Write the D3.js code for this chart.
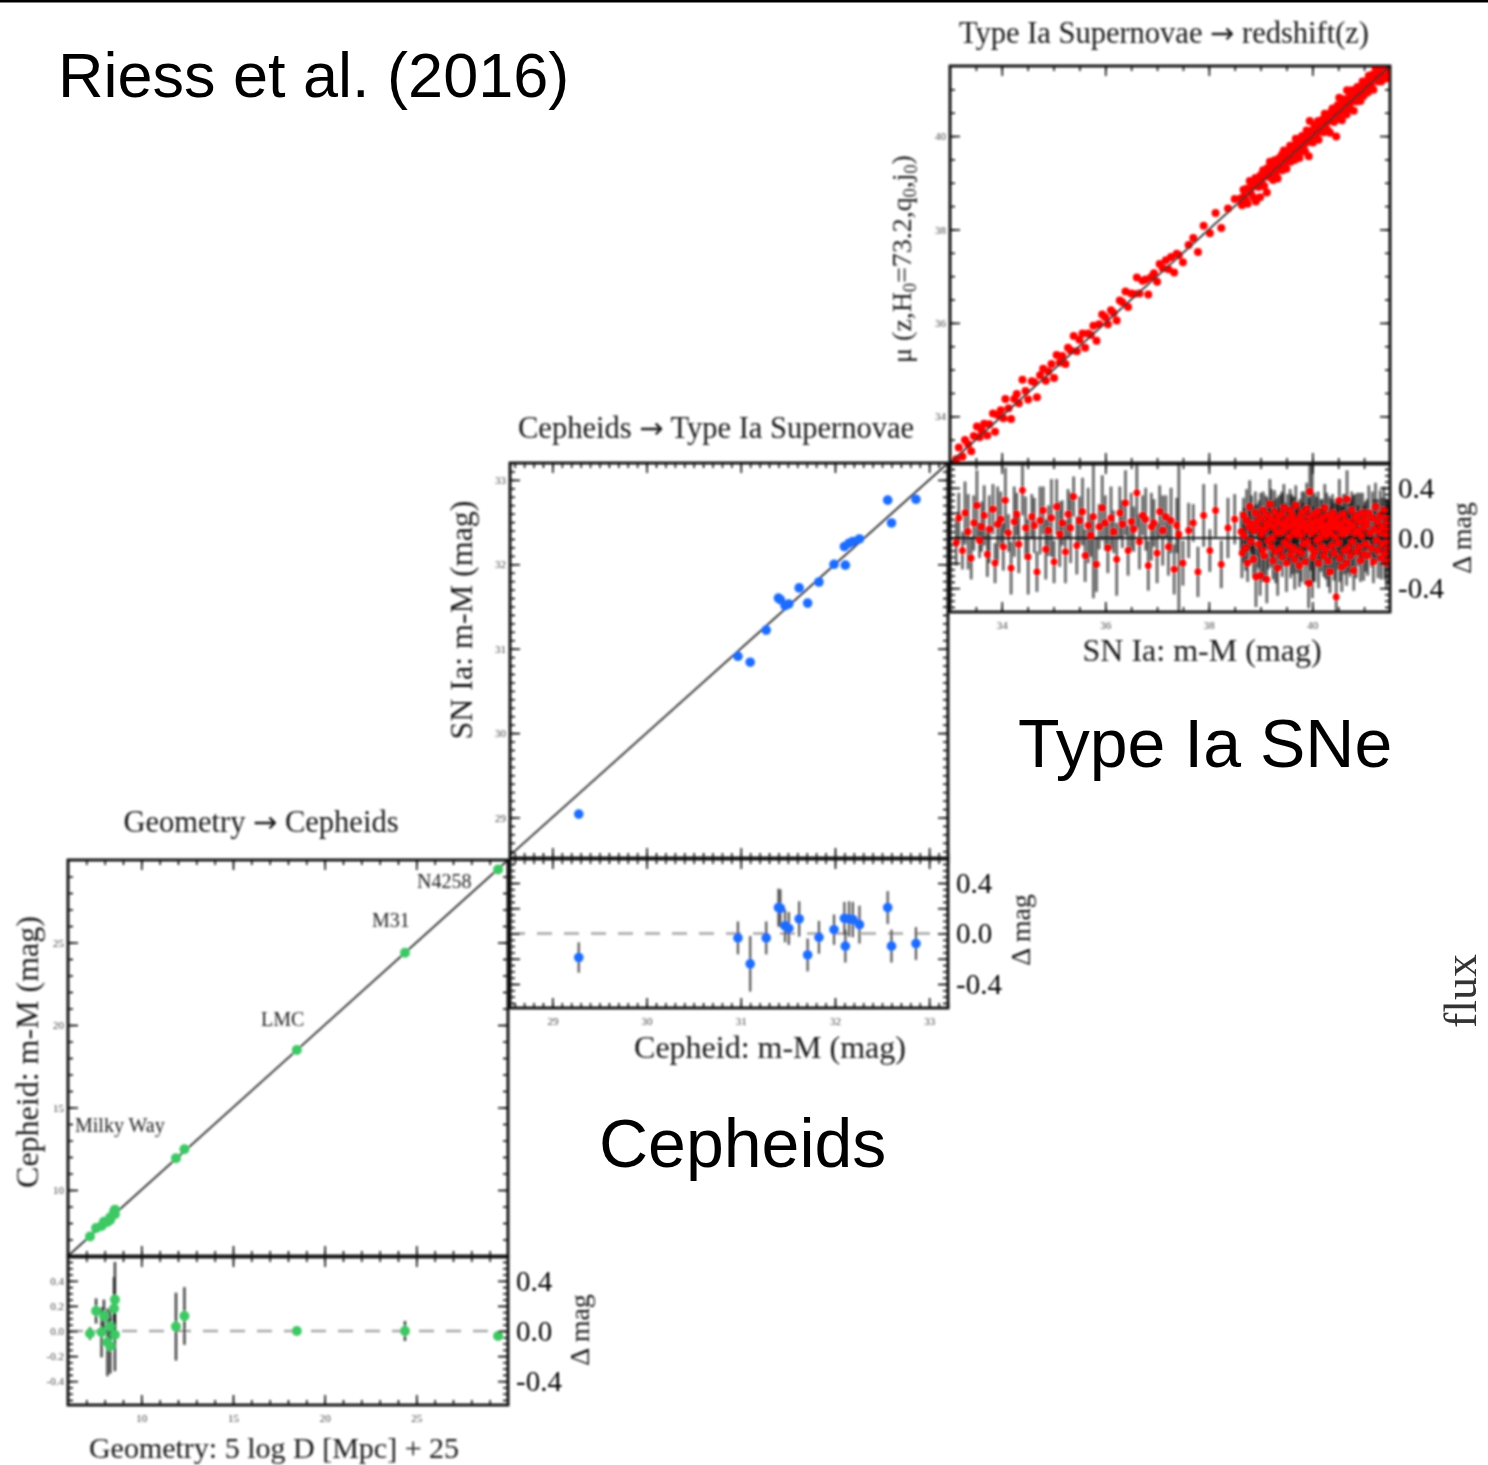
<!DOCTYPE html>
<html>
<head>
<meta charset="utf-8">
<script src="https://cdn.jsdelivr.net/npm/d3@7"></script>
<style>
  body { margin: 0; background: #fff; }
  svg { display: block; }
</style>
</head>
<body>
<svg id="chart" width="1488" height="1465"></svg>
<script>
// ---------- Geometry -> Cepheids (anchors) ----------
const geoLabels = ["N4258", "M31", "LMC", "Milky Way"];
const geoX     = [7.20, 7.53, 7.83, 7.96, 8.15, 8.30, 8.30, 8.51, 8.56, 8.56, 11.89, 12.35, 18.48, 24.38, 29.46];
const cephY    = [7.18, 7.69, 7.82, 8.08, 8.06, 8.18, 8.34, 8.69, 8.81, 8.53, 11.93, 12.47, 18.48, 24.38, 29.42];
const geoDelta = [-0.02, 0.16, -0.01, 0.12, -0.09, -0.12, 0.035, 0.18, 0.25, -0.03, 0.035, 0.12, 0.0, 0.0, -0.04];
const geoErr   = [0.05, 0.10, 0.20, 0.13, 0.27, 0.22, 0.15, 0.25, 0.30, 0.29, 0.27, 0.23, 0.03, 0.08, 0.02];

// ---------- Cepheids -> SN Ia hosts ----------
const cephX     = [29.28, 30.97, 31.10, 31.27, 31.40, 31.42, 31.47, 31.51, 31.62, 31.71, 31.83, 31.99, 32.11, 32.10, 32.15, 32.19, 32.26, 32.56, 32.60, 32.86];
const snlaY     = [29.04, 30.91, 30.84, 31.22, 31.60, 31.58, 31.51, 31.53, 31.72, 31.54, 31.79, 32.00, 31.99, 32.21, 32.25, 32.27, 32.30, 32.76, 32.49, 32.77];
const cephDelta = [-0.19, -0.035, -0.24, -0.035, 0.205, 0.20, 0.06, 0.04, 0.115, -0.17, -0.03, 0.03, -0.10, 0.12, 0.115, 0.11, 0.07, 0.205, -0.10, -0.08];
const cephErr   = [0.12, 0.13, 0.22, 0.13, 0.15, 0.15, 0.13, 0.13, 0.14, 0.13, 0.13, 0.12, 0.13, 0.13, 0.14, 0.14, 0.15, 0.13, 0.13, 0.13];

// ---------- SN Ia Hubble flow ----------
const snMod = [
  33.12,33.17,33.24,33.29,33.35,33.41,33.46,33.52,33.57,33.61,
  33.66,33.72,33.76,33.83,33.87,33.92,33.98,34.03,34.07,34.13,
  34.18,34.24,34.29,34.33,34.40,34.46,34.51,34.58,34.63,34.68,
  34.74,34.80,34.85,34.90,34.96,35.01,35.06,35.12,35.17,35.23,
  35.28,35.33,35.39,35.45,35.50,35.56,35.61,35.67,35.72,35.77,
  35.83,35.88,35.94,36.00,36.05,36.11,36.16,36.22,36.28,36.33,
  36.39,36.44,36.50,36.55,36.61,36.66,36.72,36.78,36.83,36.89,
  36.94,37.00,37.05,37.11,37.17,37.22,37.27,37.33,37.38,37.42,
  37.50,37.61,37.70,37.79,37.90,38.02,38.13,38.24,38.37,38.50,
  38.62,38.64,38.67,38.68,38.71,38.73,38.75,38.78,38.79,38.81,
  38.83,38.86,38.87,38.90,38.91,38.93,38.96,38.97,38.99,39.00,
  39.02,39.04,39.05,39.07,39.09,39.10,39.12,39.13,39.15,39.17,
  39.18,39.20,39.21,39.23,39.24,39.26,39.27,39.29,39.31,39.32,
  39.33,39.35,39.36,39.38,39.40,39.41,39.42,39.44,39.45,39.47,
  39.48,39.50,39.51,39.52,39.54,39.55,39.57,39.58,39.60,39.61,
  39.62,39.64,39.65,39.66,39.68,39.69,39.71,39.72,39.73,39.75,
  39.76,39.78,39.79,39.80,39.82,39.83,39.84,39.86,39.87,39.89,
  39.90,39.91,39.93,39.94,39.95,39.97,39.98,40.00,40.01,40.02,
  40.04,40.05,40.06,40.08,40.09,40.11,40.12,40.13,40.15,40.16,
  40.17,40.19,40.20,40.22,40.23,40.24,40.26,40.27,40.28,40.30,
  40.31,40.33,40.34,40.35,40.37,40.38,40.39,40.41,40.42,40.44,
  40.45,40.46,40.48,40.49,40.50,40.52,40.53,40.55,40.56,40.57,
  40.59,40.60,40.62,40.63,40.64,40.66,40.67,40.69,40.70,40.71,
  40.73,40.74,40.76,40.77,40.79,40.80,40.82,40.83,40.85,40.87,
  40.88,40.90,40.92,40.93,40.95,40.97,40.99,41.00,41.02,41.03,
  41.05,41.07,41.09,41.12,41.14,41.16,41.18,41.20,41.22,41.24,
  41.26,41.27,41.29,41.31,41.33,41.35,41.36,41.38,41.40,41.41,
  41.42,41.43,41.44,41.45,41.46,41.47,41.47,41.48,41.48,41.49
];
const snDelta = [
  -0.04,0.16,-0.10,0.20,0.05,-0.16,0.12,0.26,-0.02,0.09,
  0.18,-0.13,0.07,0.23,-0.20,0.11,0.15,-0.07,0.30,0.04,
  -0.24,0.13,0.19,-0.05,0.38,0.08,-0.15,0.17,0.10,-0.27,
  0.14,0.22,-0.09,0.06,0.16,-0.19,0.25,0.03,0.12,-0.11,
  0.19,0.08,0.33,-0.06,0.14,0.21,-0.14,0.10,0.02,0.17,
  -0.21,0.09,0.24,0.12,-0.08,0.16,0.05,-0.17,0.20,0.11,
  0.28,-0.10,0.13,0.07,0.36,-0.03,0.18,0.15,-0.22,0.09,
  0.12,-0.12,0.21,0.06,0.17,-0.07,0.14,-0.25,0.10,0.03,
  -0.20,0.06,0.12,-0.27,0.18,-0.10,0.22,-0.21,0.08,0.15,
  0.05,-0.12,0.18,0.02,-0.08,0.14,-0.20,0.09,0.25,-0.03,
  0.11,-0.17,0.06,0.20,-0.31,0.13,-0.05,0.08,-0.30,0.16,
  0.03,-0.10,0.22,-0.14,0.07,0.12,-0.33,0.18,-0.02,0.10,
  0.27,-0.07,0.15,0.00,-0.18,0.09,0.21,-0.11,0.05,0.13,
  -0.24,0.17,0.04,-0.09,0.11,0.19,-0.15,0.06,0.24,-0.04,
  0.12,-0.20,0.08,0.15,-0.06,0.01,0.22,-0.13,0.10,0.18,
  -0.08,0.05,0.14,-0.17,0.26,0.03,-0.10,0.11,0.07,-0.22,
  0.16,0.02,-0.12,0.20,0.09,-0.05,0.13,-0.19,0.06,0.23,
  -0.03,0.10,-0.36,0.17,0.37,-0.08,0.04,0.12,-0.15,0.08,
  0.19,-0.11,0.06,0.14,-0.02,0.21,-0.20,0.09,0.00,0.13,
  -0.07,0.16,0.05,-0.14,0.10,0.24,-0.09,0.02,0.18,-0.18,
  0.07,0.12,-0.27,0.04,0.15,-0.06,0.20,0.09,-0.12,0.01,
  0.13,-0.47,0.08,0.17,-0.04,0.30,-0.16,0.06,0.11,-0.23,
  0.03,0.19,-0.10,0.14,0.07,-0.20,0.31,0.05,-0.08,0.12,
  -0.14,0.09,0.22,-0.03,0.10,-0.26,0.16,0.04,-0.11,0.18,
  0.06,-0.07,0.13,-0.18,0.02,0.20,-0.13,0.08,0.15,-0.05,
  0.11,-0.14,0.20,0.04,-0.08,0.16,-0.19,0.07,0.25,-0.02,
  0.13,-0.10,0.05,0.18,-0.16,0.09,-0.05,0.22,-0.12,0.03,
  0.15,-0.20,0.08,-0.04,0.12,-0.09,0.04,0.10,-0.17,0.06
];
const snErr = [
  0.18,0.20,0.15,0.25,0.30,0.17,0.22,0.28,0.14,0.20,
  0.24,0.18,0.27,0.20,0.16,0.30,0.22,0.19,0.26,0.15,
  0.21,0.28,0.17,0.23,0.20,0.25,0.30,0.18,0.22,0.16,
  0.27,0.19,0.24,0.20,0.31,0.17,0.22,0.26,0.18,0.25,
  0.20,0.28,0.16,0.23,0.19,0.27,0.21,0.30,0.17,0.65,
  0.22,0.18,0.26,0.22,0.20,0.25,0.17,0.29,0.21,0.19,
  0.26,0.20,0.23,0.18,0.28,0.22,0.16,0.25,0.20,0.27,
  0.19,0.24,0.21,0.28,0.17,0.23,0.26,0.20,0.22,0.70,
  0.18,0.22,0.15,0.20,0.25,0.17,0.21,0.19,0.24,0.20,
  0.16,0.20,0.14,0.22,0.18,0.25,0.15,0.19,0.21,0.17,
  0.23,0.15,0.20,0.17,0.24,0.14,0.19,0.22,0.16,0.20,
  0.18,0.25,0.15,0.20,0.17,0.22,0.19,0.14,0.23,0.16,
  0.20,0.16,0.24,0.18,0.15,0.21,0.17,0.25,0.14,0.19,
  0.22,0.17,0.20,0.15,0.24,0.18,0.16,0.21,0.19,0.14,
  0.16,0.23,0.18,0.20,0.14,0.22,0.17,0.19,0.25,0.15,
  0.21,0.14,0.19,0.24,0.16,0.20,0.18,0.15,0.22,0.17,
  0.15,0.20,0.23,0.17,0.19,0.14,0.24,0.18,0.16,0.21,
  0.19,0.16,0.20,0.15,0.22,0.18,0.14,0.60,0.20,0.17,
  0.17,0.24,0.15,0.19,0.21,0.16,0.20,0.14,0.23,0.18,
  0.20,0.15,0.22,0.17,0.14,0.19,0.24,0.16,0.18,0.21,
  0.14,0.21,0.17,0.20,0.16,0.23,0.15,0.19,0.22,0.18,
  0.18,0.35,0.20,0.15,0.21,0.17,0.19,0.24,0.14,0.20,
  0.22,0.16,0.19,0.21,0.15,0.18,0.23,0.17,0.20,0.16,
  0.17,0.22,0.15,0.20,0.24,0.16,0.19,0.14,0.21,0.18,
  0.20,0.15,0.23,0.17,0.19,0.16,0.21,0.18,0.14,0.22,
  0.20,0.16,0.22,0.18,0.15,0.21,0.17,0.24,0.19,0.16,
  0.18,0.22,0.15,0.20,0.17,0.23,0.16,0.19,0.21,0.15,
  0.17,0.20,0.22,0.16,0.19,0.15,0.21,0.18,0.20,0.17
];

// ---------- tick labels ----------
const p1Ticks = [10, 15, 20, 25];
const p2Ticks = [29, 30, 31, 32, 33];
const p3Ticks = [34, 36, 38, 40];
const residTicks = [-0.4, -0.2, 0, 0.2, 0.4];
const residBigTicks = [-0.4, 0, 0.4];

// ---------- drawing ----------
const SERIF = "'Liberation Serif','Times New Roman',serif";
const SANS = "'Liberation Sans',Arial,Helvetica,sans-serif";
const ARROW_FONT = "'DejaVu Sans',sans-serif";
const residDomain = [-0.59, 0.59];

const svg = d3.select("#chart");
svg.append("rect").attr("width", 1488).attr("height", 1465).attr("fill", "#fff");
svg.append("rect").attr("x", 0).attr("y", 0).attr("width", 1488).attr("height", 2.5).attr("fill", "#000");

const defs = svg.append("defs");
defs.append("filter").attr("id", "soft")
  .attr("x", "-2%").attr("y", "-2%").attr("width", "104%").attr("height", "104%")
  .append("feGaussianBlur").attr("stdDeviation", 0.8);

const plot = svg.append("g").attr("filter", "url(#soft)");

let clipCount = 0;
function clipFor(x, y) {
  const id = "clip" + (clipCount++);
  const [x0, x1] = x.range(), [yb, yt] = y.range();
  defs.append("clipPath").attr("id", id)
    .append("rect").attr("x", x0).attr("y", yt).attr("width", x1 - x0).attr("height", yb - yt);
  return plot.append("g").attr("clip-path", `url(#${id})`);
}

function tickRow(g, make, scale, at, values, len, fmt, pad, size, fill) {
  const horizontal = (make === d3.axisBottom || make === d3.axisTop);
  const a = make(scale).tickValues(values).tickSizeInner(-len).tickSizeOuter(0)
    .tickPadding(pad || 5).tickFormat(fmt || (() => ""));
  const s = g.append("g")
    .attr("transform", horizontal ? `translate(0,${at})` : `translate(${at},0)`)
    .call(a);
  s.attr("font-family", SERIF).attr("font-size", size || 11);
  s.select(".domain").remove();
  s.selectAll(".tick line").attr("stroke", "#111").attr("stroke-width", 1.6);
  s.selectAll(".tick text").attr("fill", fill || "#444");
  return s;
}

function frame(x, y, spec) {
  const g = plot.append("g");
  const [x0, x1] = x.range(), [yb, yt] = y.range();
  tickRow(g, d3.axisBottom, x, yb, spec.xMinor, 5);
  tickRow(g, d3.axisBottom, x, yb, spec.xMajor, 10, spec.bottomFmt, 9);
  tickRow(g, d3.axisTop, x, yt, spec.xMinor, 5);
  tickRow(g, d3.axisTop, x, yt, spec.xMajor, 10);
  tickRow(g, d3.axisLeft, y, x0, spec.yMinor, 5);
  tickRow(g, d3.axisLeft, y, x0, spec.yMajor, 10, spec.leftFmt, 4);
  tickRow(g, d3.axisRight, y, x1, spec.yMinor, 5);
  tickRow(g, d3.axisRight, y, x1, spec.yMajor, 10);
  if (spec.rightBig) {
    tickRow(g, d3.axisRight, y, x1, residBigTicks, 0, d => d.toFixed(1), 8, 29, "#000");
  }
  g.append("rect")
    .attr("x", x0).attr("y", yt).attr("width", x1 - x0).attr("height", yb - yt)
    .attr("fill", "none").attr("stroke", "#111").attr("stroke-width", 2.8);
}

const intFmt = d3.format("d");
const resFmt = d => d.toFixed(1);
const residMinor = d3.range(-0.55, 0.56, 0.05);

function diagonal(g, x, y) {
  const lo = Math.max(x.domain()[0], y.domain()[0]) - 1;
  const hi = Math.min(x.domain()[1], y.domain()[1]) + 1;
  g.append("line")
    .attr("x1", x(lo)).attr("y1", y(lo)).attr("x2", x(hi)).attr("y2", y(hi))
    .attr("stroke", "#222").attr("stroke-width", 1.7);
}

function zeroLine(g, x, r, dashed) {
  const [x0, x1] = x.range();
  g.append("line").attr("x1", x0).attr("x2", x1).attr("y1", r(0)).attr("y2", r(0))
    .attr("stroke", dashed ? "#a8a8a8" : "#1a1a1a")
    .attr("stroke-width", dashed ? 2.6 : 2)
    .attr("stroke-dasharray", dashed ? "15,12" : null);
}

function errorBars(g, x, r, xs, ds, es, color, width, opacity) {
  g.selectAll(null).data(xs.map((v, i) => [v, ds[i], es[i]])).enter().append("line")
    .attr("x1", d => x(d[0])).attr("x2", d => x(d[0]))
    .attr("y1", d => r(d[1] - d[2])).attr("y2", d => r(d[1] + d[2]))
    .attr("stroke", color).attr("stroke-width", width).attr("stroke-opacity", opacity);
}

function dots(g, x, y, xs, ys, color, rad) {
  g.selectAll(null).data(xs.map((v, i) => [v, ys[i]])).enter().append("circle")
    .attr("cx", d => x(d[0])).attr("cy", d => y(d[1])).attr("r", rad).attr("fill", color);
}

// ===== Panel 1: Geometry -> Cepheids =====
{
  const x = d3.scaleLinear().domain([6, 30]).range([68, 508]);
  const y = d3.scaleLinear().domain([6, 30]).range([1256, 860]);
  const r = d3.scaleLinear().domain(residDomain).range([1405, 1257]);
  const green = "#3cc864";

  const gm = clipFor(x, y);
  diagonal(gm, x, y);
  dots(gm, x, y, geoX, cephY, green, 5);

  const gr = clipFor(x, r);
  zeroLine(gr, x, r, true);
  errorBars(gr, x, r, geoX, geoDelta, geoErr, "#111", 2.4, 0.8);
  dots(gr, x, r, geoX, geoDelta, green, 5);

  const xMinor = d3.range(7, 30, 1);
  frame(x, y, { xMajor: p1Ticks, xMinor, yMajor: p1Ticks, yMinor: d3.range(7, 30, 1), leftFmt: intFmt });
  frame(x, r, { xMajor: p1Ticks, xMinor, yMajor: residTicks, yMinor: residMinor,
    leftFmt: resFmt, bottomFmt: intFmt, rightBig: true });

  const lab = plot.append("g").attr("font-family", SERIF).attr("font-size", 20).attr("fill", "#222");
  const labelPos = [[417, 888], [372, 927], [261, 1026], [75, 1132]];
  lab.selectAll("text").data(geoLabels).enter().append("text")
    .attr("x", (d, i) => labelPos[i][0]).attr("y", (d, i) => labelPos[i][1]).text(d => d);
}

// ===== Panel 2: Cepheids -> Type Ia Supernovae =====
{
  const x = d3.scaleLinear().domain([28.55, 33.2]).range([510, 948]);
  const y = d3.scaleLinear().domain([28.52, 33.2]).range([858, 463]);
  const r = d3.scaleLinear().domain(residDomain).range([1008, 859]);
  const blue = "#1a6cff";

  const gm = clipFor(x, y);
  diagonal(gm, x, y);
  dots(gm, x, y, cephX, snlaY, blue, 4.8);

  const gr = clipFor(x, r);
  zeroLine(gr, x, r, true);
  errorBars(gr, x, r, cephX, cephDelta, cephErr, "#333", 2.3, 0.8);
  dots(gr, x, r, cephX, cephDelta, blue, 4.8);

  const xMinor = d3.range(28.6, 33.2, 0.1);
  frame(x, y, { xMajor: p2Ticks, xMinor, yMajor: p2Ticks, yMinor: d3.range(28.6, 33.2, 0.1), leftFmt: intFmt });
  frame(x, r, { xMajor: p2Ticks, xMinor, yMajor: residTicks, yMinor: residMinor,
    bottomFmt: intFmt, rightBig: true });
}

// ===== Panel 3: Type Ia Supernovae -> redshift =====
{
  const x = d3.scaleLinear().domain([33, 41.5]).range([950, 1390]);
  const y = d3.scaleLinear().domain([33, 41.5]).range([463, 66]);
  const r = d3.scaleLinear().domain(residDomain).range([612, 464]);
  const red = "#ff0000";
  const muZ = snMod.map((m, i) => m + snDelta[i]);

  const gm = clipFor(x, y);
  dots(gm, x, y, snMod, muZ, red, 4);
  diagonal(gm, x, y);

  const gr = clipFor(x, r);
  zeroLine(gr, x, r, false);
  errorBars(gr, x, r, snMod, snDelta, snErr, "#111", 2.6, 0.68);
  dots(gr, x, r, snMod, snDelta, red, 3.4);

  const xMinor = d3.range(33.5, 41.5, 0.5);
  frame(x, y, { xMajor: p3Ticks, xMinor, yMajor: p3Ticks, yMinor: d3.range(33.5, 41.5, 0.5), leftFmt: intFmt });
  frame(x, r, { xMajor: p3Ticks, xMinor, yMajor: residTicks, yMinor: residMinor,
    bottomFmt: intFmt, rightBig: true });
}

// ===== titles and axis titles (serif) =====
const txt = plot.append("g").attr("font-family", SERIF).attr("fill", "#1a1a1a");

function label(s, x, y, size, rot) {
  const t = txt.append("text").attr("font-size", size).attr("text-anchor", "middle");
  if (rot) t.attr("transform", `translate(${x},${y}) rotate(-90)`);
  else t.attr("x", x).attr("y", y);
  t.text(s);
  return t;
}

// panel titles: "from → to", with a longer arrow glyph
function arrowTitle(from, to, x, y, size) {
  const t = txt.append("text").attr("font-size", size).attr("text-anchor", "middle")
    .attr("x", x).attr("y", y);
  t.append("tspan").text(from + " ");
  t.append("tspan").attr("font-family", ARROW_FONT).attr("font-size", size * 0.95).text("\u2192");
  t.append("tspan").text(" " + to);
}

arrowTitle("Geometry", "Cepheids", 261, 832, 30.5);
arrowTitle("Cepheids", "Type Ia Supernovae", 716, 438, 30.5);
arrowTitle("Type Ia Supernovae", "redshift(z)", 1164, 43, 30.5);

label("Geometry: 5 log D [Mpc] + 25", 274, 1458, 30);
label("Cepheid: m-M (mag)", 770, 1058, 32);
label("SN Ia: m-M (mag)", 1202, 661, 32);

label("Cepheid: m-M (mag)", 38, 1052, 32, true);
label("SN Ia: m-M (mag)", 472, 620, 32, true);

{
  const t = txt.append("text").attr("font-size", 28).attr("text-anchor", "middle")
    .attr("transform", "translate(911,259) rotate(-90)");
  const parts = [["\u03bc (z,H", 0], ["0", 1], ["=73.2,q", 0], ["0", 1], [",j", 0], ["0", 1], [")", 0]];
  let shifted = false;
  parts.forEach(([s, sub]) => {
    const sp = t.append("tspan").text(s);
    if (sub) { sp.attr("font-size", 18).attr("dy", "0.3em"); shifted = true; }
    else if (shifted) { sp.attr("dy", "-0.19em"); shifted = false; }
  });
}

label("\u0394 mag", 589, 1330, 28, true);
label("\u0394 mag", 1030, 930, 28, true);
label("\u0394 mag", 1471, 538, 28, true);

// ===== large slide labels =====
const big = svg.append("g").attr("font-family", SANS).attr("fill", "#000");
big.append("text").attr("x", 58).attr("y", 97).attr("font-size", 63).text("Riess et al. (2016)");
big.append("text").attr("x", 1018).attr("y", 767).attr("font-size", 68).text("Type Ia SNe");
big.append("text").attr("x", 599).attr("y", 1167).attr("font-size", 68).text("Cepheids");

svg.append("text")
  .attr("font-family", SERIF).attr("font-size", 46).attr("fill", "#333")
  .attr("text-anchor", "middle")
  .attr("transform", "translate(1476,991) rotate(-90)")
  .text("flux");
</script>
</body>
</html>
